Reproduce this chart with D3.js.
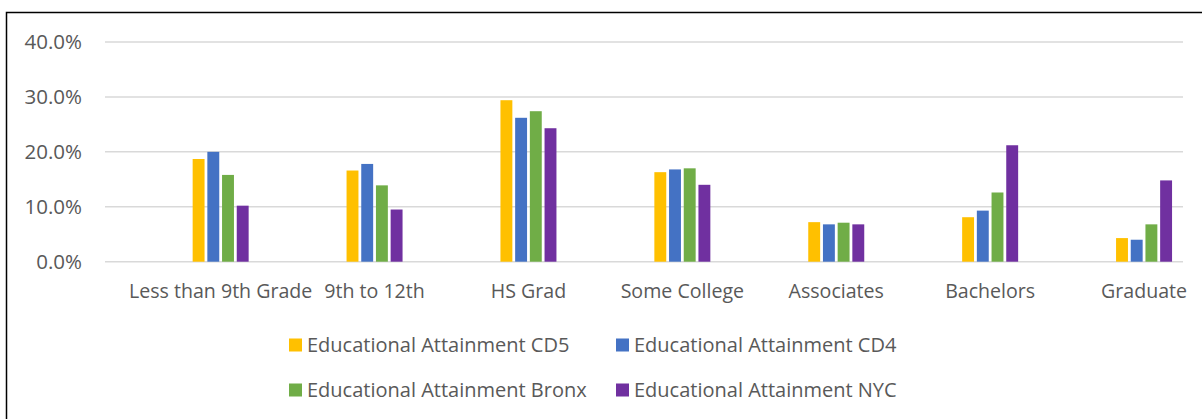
<!DOCTYPE html>
<html>
<head>
<meta charset="utf-8">
<script src="https://cdn.jsdelivr.net/npm/d3@7"></script>
<style>
  body { margin: 0; background: #fff; }
  text { font-family: "Open Sans", sans-serif; fill: #595959; }
</style>
</head>
<body>
<svg id="chart" width="1202" height="419"></svg>
<script>
var categories = ["Less than 9th Grade", "9th to 12th", "HS Grad", "Some College", "Associates", "Bachelors", "Graduate"];
var seriesNames = ["Educational Attainment CD5", "Educational Attainment CD4", "Educational Attainment Bronx", "Educational Attainment NYC"];
var colors = ["#FFC000", "#4472C4", "#70AD47", "#7030A0"];
var cd5 = [18.7, 16.6, 29.4, 16.3, 7.2, 8.1, 4.3];
var cd4 = [20.0, 17.8, 26.2, 16.8, 6.8, 9.3, 4.0];
var bronx = [15.8, 13.9, 27.4, 17.0, 7.1, 12.6, 6.8];
var nyc = [10.2, 9.5, 24.3, 14.0, 6.8, 21.2, 14.8];
var yTicks = [0, 10, 20, 30, 40];

var values = [cd5, cd4, bronx, nyc];
var svg = d3.select("#chart");

// outer frame (runs off right and bottom edge)
svg.append("rect")
    .attr("x", 6.5).attr("y", 12.5)
    .attr("width", 1300).attr("height", 500)
    .attr("fill", "none").attr("stroke", "#000").attr("stroke-width", 1.5);

var gridLeft = 105, gridRight = 1183;
var y = d3.scaleLinear().domain([0, 40]).range([261.7, 42]);

// categories sit slightly right of the grid in the original
var x = d3.scaleBand().domain(categories).range([143.7, 1221]);
var xs = d3.scaleBand().domain(d3.range(4)).range([0, 56]).paddingInner(0.19).paddingOuter(0);

svg.append("g").selectAll("line")
    .data(yTicks)
    .enter().append("line")
    .attr("x1", gridLeft).attr("x2", gridRight)
    .attr("y1", function(d){ return y(d); })
    .attr("y2", function(d){ return y(d); })
    .attr("stroke", "#d9d9d9").attr("stroke-width", 1.5);

svg.append("g").selectAll("text")
    .data(yTicks)
    .enter().append("text")
    .attr("x", 82)
    .attr("y", function(d){ return y(d); })
    .attr("dy", "0.35em")
    .attr("text-anchor", "end")
    .style("font-size", "20.5px")
    .text(function(d){ return d3.format(".1f")(d) + "%"; });

var groups = svg.append("g").selectAll("g")
    .data(categories)
    .enter().append("g")
    .attr("transform", function(d){ return "translate(" + (x(d) + x.bandwidth()/2 - 28) + ",0)"; });

groups.selectAll("rect")
    .data(function(d, i){ return values.map(function(s, k){ return {k: k, v: s[i]}; }); })
    .enter().append("rect")
    .attr("x", function(d){ return xs(d.k); })
    .attr("width", xs.bandwidth())
    .attr("y", function(d){ return y(d.v); })
    .attr("height", function(d){ return y(0) - y(d.v); })
    .attr("fill", function(d){ return colors[d.k]; });

svg.append("g").selectAll("text")
    .data(categories)
    .enter().append("text")
    .attr("x", function(d){ return x(d) + x.bandwidth()/2; })
    .attr("y", 298)
    .attr("text-anchor", "middle")
    .style("font-size", "19.6px")
    .text(function(d){ return d; });

// legend, two columns x two rows
var legend = svg.append("g").selectAll("g")
    .data(seriesNames)
    .enter().append("g")
    .attr("transform", function(d, i){ return "translate(" + (i % 2 ? 616 : 289) + "," + (i < 2 ? 345 : 390) + ")"; });

legend.append("rect")
    .attr("x", 0).attr("y", -6.5)
    .attr("width", 13).attr("height", 13)
    .attr("fill", function(d, i){ return colors[i]; });

legend.append("text")
    .attr("x", 18).attr("y", 0)
    .attr("dy", "0.35em")
    .style("font-size", "20px")
    .text(function(d){ return d; });
</script>
</body>
</html>
